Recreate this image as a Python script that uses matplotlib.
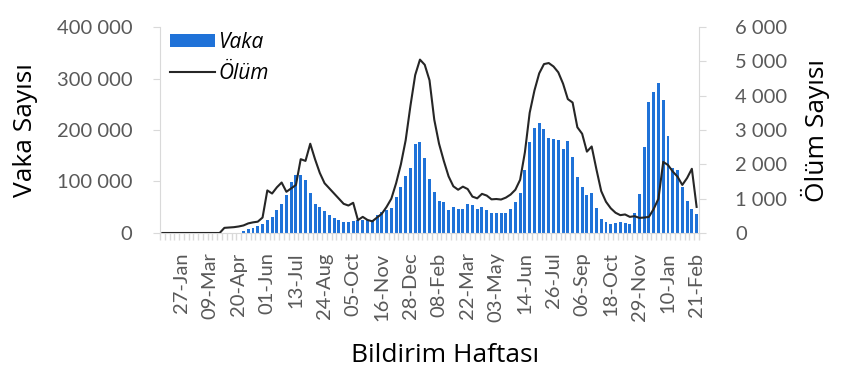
import matplotlib
matplotlib.use('Agg')
import matplotlib.pyplot as plt
import numpy as np
import pandas as pd
from matplotlib.ticker import FuncFormatter, MultipleLocator

# ---- data ----
weeks = pd.date_range('2019-12-30', periods=113, freq='7D')
week_labels = [d.strftime('%d-%b') for d in weeks]
label_idx = list(range(4, 113, 6))

vaka = ([0] * 17 +
        [4000, 8000, 10000, 13000, 18000, 25000, 31000, 44000, 57000, 73000,
         99000, 112000, 113000, 102000, 78000, 56000, 50000, 43000, 34000, 29000,
         25000, 22000, 22000, 23000, 25000, 25000, 25000, 25000, 34000, 41000,
         44000, 48000, 70000, 90000, 110000, 127000, 173000, 176000, 146000, 104000,
         80000, 63000, 61000, 44000, 50000, 47000, 46000, 57000, 54000, 46000,
         50000, 44000, 38000, 38000, 38000, 39000, 47000, 60000, 78000, 122000,
         177000, 204000, 213000, 202000, 185000, 182000, 181000, 163000, 179000, 147000,
         109000, 90000, 73000, 77000, 49000, 27000, 22000, 17000, 20000, 21000,
         20000, 18000, 39000, 75000, 167000, 254000, 274000, 291000, 259000, 189000,
         127000, 123000, 89000, 63000, 47000, 36000])

olum = ([0] * 13 +
        [150, 160, 170, 190, 220, 280, 310, 330, 450, 1240,
         1150, 1330, 1470, 1200, 1300, 1400, 2150, 2100, 2600, 2150,
         1750, 1450, 1300, 1150, 1000, 850, 800, 880, 375, 470,
         380, 340, 450, 560, 760, 1000, 1450, 2000, 2700, 3700,
         4600, 5050, 4900, 4450, 3300, 2600, 2100, 1650, 1360, 1260,
         1350, 1280, 1060, 1010, 1140, 1090, 980, 990, 975, 1030,
         1120, 1260, 1550, 2350, 3500, 4150, 4650, 4920, 4950, 4850,
         4680, 4350, 3900, 3800, 3080, 2890, 2370, 2520, 1850, 1220,
         910, 720, 590, 520, 540, 470, 490, 440, 450, 470,
         700, 1000, 2070, 1980, 1790, 1640, 1400, 1600, 1870, 760])

# ---- style ----
TICK_FONT = ['Lato', 'DejaVu Sans']
TITLE_FONT = ['Open Sans', 'DejaVu Sans']
tick_color = '#595959'
axis_color = '#d9d9d9'
bar_color = '#1f72d8'
line_color = '#262626'

fig = plt.figure(figsize=(8.5, 3.75), dpi=100)
ax1 = fig.add_axes([160 / 850, 1 - 233 / 375, (699 - 160) / 850, (233 - 27) / 375])
ax2 = ax1.twinx()

x = np.arange(len(weeks))
bars = ax1.bar(x, vaka, width=0.62, color=bar_color, zorder=2)
line, = ax2.plot(x, olum, color=line_color, lw=1.5)

ax1.set_xlim(-0.5, len(weeks) - 0.5)
ax1.set_ylim(0, 400000)
ax2.set_ylim(0, 6000)
ax1.yaxis.set_major_locator(MultipleLocator(100000))
ax2.yaxis.set_major_locator(MultipleLocator(1000))
fmt = FuncFormatter(lambda v, p: f'{int(round(v)):,}'.replace(',', ' '))
ax1.yaxis.set_major_formatter(fmt)
ax2.yaxis.set_major_formatter(fmt)

ax1.set_xticks(label_idx)
ax1.set_xticklabels([week_labels[i] for i in label_idx], rotation=90)
ax1.set_xticks(np.arange(len(weeks) + 1) - 0.5, minor=True)
ax1.tick_params(axis='x', which='major', length=0, pad=14)
ax1.tick_params(axis='x', which='minor', length=5, color=axis_color, width=1)

ax1.tick_params(axis='y', length=5, color=axis_color, pad=15)
ax2.tick_params(axis='y', length=5, color=axis_color, pad=21)

for lab in ax1.get_xticklabels() + ax1.get_yticklabels() + ax2.get_yticklabels():
    lab.set_family(TICK_FONT)
    lab.set_fontsize(14.5)
    lab.set_color(tick_color)

for sp in ['top', 'right']:
    ax1.spines[sp].set_visible(False)
for sp in ['top', 'left', 'bottom']:
    ax2.spines[sp].set_visible(False)
ax1.spines['left'].set_color(axis_color)
ax1.spines['bottom'].set_color(axis_color)
ax2.spines['right'].set_color(axis_color)

fig.text(25 / 850, 1 - 130 / 375, 'Vaka Sayısı', rotation=90, ha='center', va='center',
         fontsize=19, family=TITLE_FONT, color='black')
fig.text(815 / 850, 1 - 130 / 375, 'Ölüm Sayısı', rotation=90, ha='center', va='center',
         fontsize=19, family=TITLE_FONT, color='black')
fig.text(445 / 850, 1 - 356 / 375, 'Bildirim Haftası', ha='center', va='center',
         fontsize=19, family=TITLE_FONT, color='black')

ax2.legend([bars, line], ['Vaka', 'Ölüm'], loc='upper left', bbox_to_anchor=(0.008, 1.0),
           frameon=False, prop={'family': TITLE_FONT, 'style': 'italic', 'size': 15},
           handlelength=2.2, handleheight=0.6, handletextpad=0.15, labelspacing=0.45,
           borderpad=0.25, borderaxespad=0)

fig.savefig('out.png', dpi=100)
